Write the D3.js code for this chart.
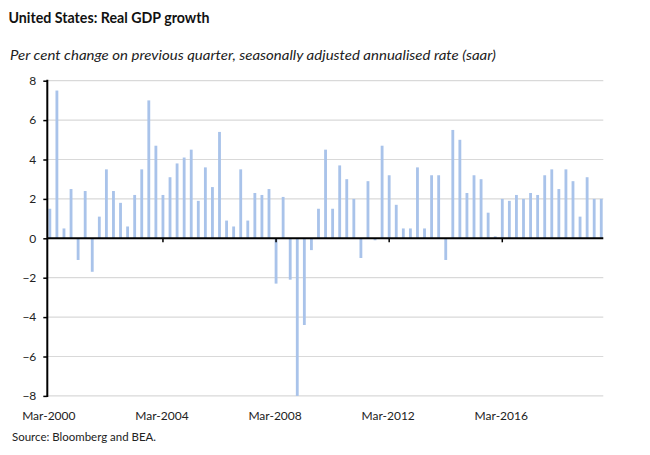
<!DOCTYPE html>
<html><head><meta charset="utf-8">
<script src="https://cdn.jsdelivr.net/npm/d3@7/dist/d3.min.js"></script>
<style>
html,body{margin:0;padding:0;background:#fff;}
svg{display:block;}
text{font-family:Lato,"Open Sans",sans-serif;}
</style></head>
<body><svg id="c" width="650" height="455"></svg>
<script>
// ---- data ----
const years = d3.range(2000, 2020);
const months = ["Mar","Jun","Sep","Dec"];
const gdpGrowth = [
  1.5, 7.5, 0.5, 2.5,   // 2000
 -1.1, 2.4,-1.7, 1.1,   // 2001
  3.5, 2.4, 1.8, 0.6,   // 2002
  2.2, 3.5, 7.0, 4.7,   // 2003
  2.2, 3.1, 3.8, 4.1,   // 2004
  4.5, 1.9, 3.6, 2.6,   // 2005
  5.4, 0.9, 0.6, 3.5,   // 2006
  0.9, 2.3, 2.2, 2.5,   // 2007
 -2.3, 2.1,-2.1,-8.4,   // 2008
 -4.4,-0.6, 1.5, 4.5,   // 2009
  1.5, 3.7, 3.0, 2.0,   // 2010
 -1.0, 2.9,-0.1, 4.7,   // 2011
  3.2, 1.7, 0.5, 0.5,   // 2012
  3.6, 0.5, 3.2, 3.2,   // 2013
 -1.1, 5.5, 5.0, 2.3,   // 2014
  3.2, 3.0, 1.3, 0.1,   // 2015
  2.0, 1.9, 2.2, 2.0,   // 2016
  2.3, 2.2, 3.2, 3.5,   // 2017
  2.5, 3.5, 2.9, 1.1,   // 2018
  3.1, 2.0, 2.0         // 2019
];
const quarters = [];
years.forEach(y => months.forEach(m => quarters.push(m + "-" + y)));
const categories = quarters.slice(0, gdpGrowth.length);
const xTickLabels = ["Mar-2000","Mar-2004","Mar-2008","Mar-2012","Mar-2016"];
const yTicks = [-8,-6,-4,-2,0,2,4,6,8];

const titleText = "United States: Real GDP growth";
const subtitleText = "Per cent change on previous quarter, seasonally adjusted annualised rate (saar)";
const sourceText = "Source: Bloomberg and BEA.";

// ---- layout ----
const svg = d3.select("#c");
const plotL = 47.3, plotR = 603.3, plotT = 80.7, plotB = 395.9;

const x = d3.scaleBand().domain(categories).range([46.3, 604.8])
  .paddingInner(0.6).paddingOuter(0.3);
const y = d3.scaleLinear().domain([-8, 8]).range([plotB, plotT]).clamp(true);

function fit(sel, target){
  sel.attr("textLength", target).attr("lengthAdjust", "spacingAndGlyphs");
}

// title
fit(svg.append("text").attr("x", 8.5).attr("y", 23).attr("font-size", 14.6)
  .attr("font-weight", "bold").attr("fill", "#111").text(titleText), 201);
fit(svg.append("text").attr("x", 10).attr("y", 60).attr("font-size", 13.2)
  .attr("font-style", "italic").attr("fill", "#222").text(subtitleText), 486);

// gridlines
svg.append("g").selectAll("line").data(yTicks.filter(d => d !== 0)).join("line")
  .attr("x1", plotL).attr("x2", plotR)
  .attr("y1", d => y(d)).attr("y2", d => y(d))
  .attr("stroke", "#d9d9d9").attr("stroke-width", 1.2);

// bars
svg.append("g").selectAll("rect").data(gdpGrowth).join("rect")
  .attr("x", (d, i) => x(categories[i]))
  .attr("width", x.bandwidth())
  .attr("y", d => y(Math.max(0, d)))
  .attr("height", d => Math.abs(y(d) - y(0)))
  .attr("fill", "#a9c3ea");

// y axis
const yAxis = d3.axisLeft(y).tickValues(yTicks).tickSize(4).tickPadding(7).tickFormat(d3.format("d"));
const gy = svg.append("g").attr("transform", `translate(${plotL},0)`).call(yAxis);
gy.select(".domain").remove();
gy.selectAll(".tick line").attr("stroke", "#000").attr("stroke-width", 1.5);
gy.selectAll(".tick text").attr("font-size", 12).attr("fill", "#222")
  .attr("font-family", "Lato, 'Open Sans', sans-serif");
svg.append("line").attr("x1", plotL).attr("x2", plotL).attr("y1", plotT - 1).attr("y2", plotB + 1)
  .attr("stroke", "#000").attr("stroke-width", 2);

// x axis (at zero)
const xAxis = d3.axisBottom(x).tickValues(xTickLabels).tickSize(4).tickPadding(0);
const gx = svg.append("g").attr("transform", `translate(0,${y(0)})`).call(xAxis);
gx.select(".domain").remove();
gx.selectAll(".tick line").attr("stroke", "#000").attr("stroke-width", 1.5)
  .attr("opacity", d => d === xTickLabels[0] ? 0 : 1);
gx.selectAll(".tick text").remove();
svg.append("line").attr("x1", plotL).attr("x2", plotR).attr("y1", y(0)).attr("y2", y(0))
  .attr("stroke", "#000").attr("stroke-width", 2);

// x labels at bottom
svg.append("g").selectAll("text").data(xTickLabels).join("text")
  .attr("x", d => x(d) + x.bandwidth() / 2 - 1)
  .attr("y", 419.5)
  .attr("text-anchor", "middle").attr("font-size", 12).attr("fill", "#222")
  .text(d => d);

// source
fit(svg.append("text").attr("x", 12).attr("y", 441).attr("font-size", 11)
  .attr("fill", "#222").text(sourceText), 144);
</script></body></html>
